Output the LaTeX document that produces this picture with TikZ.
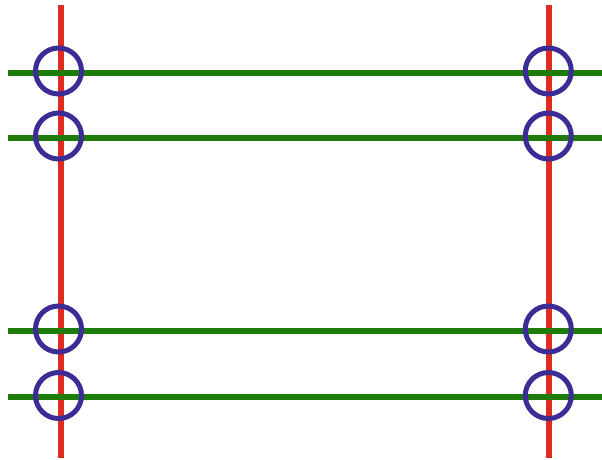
\documentclass[tikz,border=0pt]{standalone}
\definecolor{wirered}{RGB}{222,45,32}
\definecolor{wiregreen}{RGB}{30,122,10}
\definecolor{ringblue}{RGB}{60,45,150}
\begin{document}
\begin{tikzpicture}[x=1pt,y=-1pt,
  vline/.style={draw=wirered,line width=6pt},
  hline/.style={draw=wiregreen,line width=6pt},
  ring/.style={circle,draw=ringblue,line width=5pt,minimum size=46pt,inner sep=0pt}]
\useasboundingbox (0,0) rectangle (602,459);
% vertical red lines
\coordinate (v1t) at (61,5);   \coordinate (v1b) at (61,458);
\coordinate (v2t) at (549,5);  \coordinate (v2b) at (549,458);
\draw[vline] (v1t) -- (v1b);
\draw[vline] (v2t) -- (v2b);
% horizontal green lines
\foreach \i/\y in {1/73,2/138,3/331,4/397}{
  \coordinate (h\i l) at (8,\y);
  \coordinate (h\i r) at (602,\y);
  \draw[hline] (h\i l) -- (h\i r);
}
% rings
\foreach \i/\y in {1/71,2/136,3/329,4/395.5}{
  \node[ring] (cl\i) at (58.5,\y) {};
  \node[ring] (cr\i) at (548.3,\y) {};
}
\end{tikzpicture}
\end{document}
